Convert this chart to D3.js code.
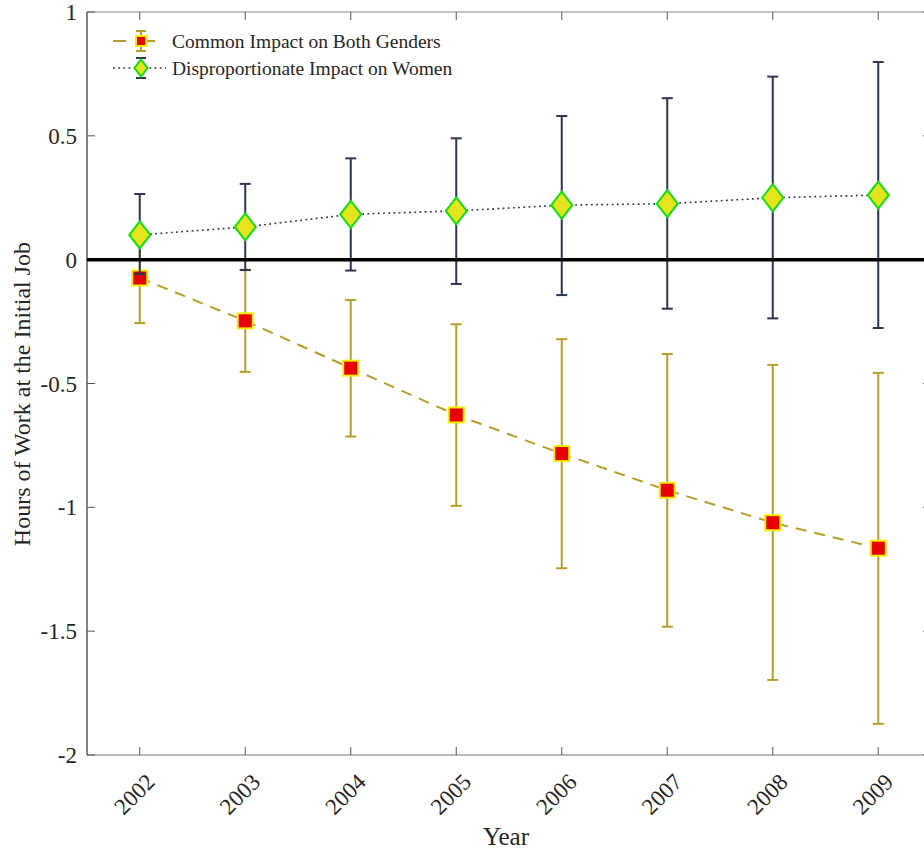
<!DOCTYPE html>
<html><head><meta charset="utf-8">
<script src="https://cdn.jsdelivr.net/npm/d3@7"></script>
<style>body{margin:0;background:#fff}svg{display:block}text{font-family:"Liberation Serif","DejaVu Serif",serif;fill:#262626}</style>
</head><body><svg id="c" width="924" height="850"></svg>
<script>
const years = [2002,2003,2004,2005,2006,2007,2008,2009];
const commonMean = [-0.074,-0.247,-0.438,-0.627,-0.783,-0.931,-1.062,-1.165];
const commonUpper = [0.108,-0.041,-0.163,-0.261,-0.321,-0.381,-0.425,-0.457];
const commonLower = [-0.256,-0.453,-0.714,-0.994,-1.246,-1.482,-1.697,-1.874];
const womenMean = [0.100,0.132,0.183,0.197,0.220,0.226,0.250,0.261];
const womenUpper = [0.265,0.306,0.409,0.490,0.580,0.652,0.739,0.798];
const womenLower = [-0.058,-0.042,-0.044,-0.098,-0.143,-0.198,-0.237,-0.276];
const yTicks = [1,0.5,0,-0.5,-1,-1.5,-2];
const yTickLabels = ["1","0.5","0","-0.5","-1","-1.5","-2"];
const seriesNames = ["Common Impact on Both Genders","Disproportionate Impact on Women"];
const xLabel = "Year", yLabel = "Hours of Work at the Initial Job";

const svg = d3.select("#c");
const L=87, R=931, T=12, B=755;
const x = d3.scaleLinear().domain([2001.5,2009.5]).range([L,R]);
const y = d3.scaleLinear().domain([-2,1]).range([B,T]);

const gold="#B89E28", navy="#2C3650";

const axc="#555";
svg.append("line").attr("x1",L).attr("x2",R).attr("y1",T).attr("y2",T).attr("stroke","#888").attr("stroke-width",1.2);
svg.append("line").attr("x1",L).attr("x2",R).attr("y1",B).attr("y2",B).attr("stroke","#777").attr("stroke-width",1.2);
svg.append("line").attr("x1",L).attr("x2",L).attr("y1",T).attr("y2",B).attr("stroke","#333").attr("stroke-width",1.2);
svg.append("line").attr("x1",R).attr("x2",R).attr("y1",T).attr("y2",B).attr("stroke","#777").attr("stroke-width",1.2);

years.forEach(v=>{
  svg.append("line").attr("x1",x(v)).attr("x2",x(v)).attr("y1",B).attr("y2",B-8).attr("stroke",axc);
  svg.append("line").attr("x1",x(v)).attr("x2",x(v)).attr("y1",T).attr("y2",T+8).attr("stroke",axc);
  svg.append("text").attr("transform",`translate(${x(v)+5},${B+17}) rotate(-45)`)
    .attr("text-anchor","end").attr("dy","0.7em").attr("font-size",23).text(v);
});
yTicks.forEach((v,i)=>{
  svg.append("line").attr("x1",L).attr("x2",L+8).attr("y1",y(v)).attr("y2",y(v)).attr("stroke",axc);
  svg.append("line").attr("x1",R).attr("x2",R-8).attr("y1",y(v)).attr("y2",y(v)).attr("stroke",axc);
  svg.append("text").attr("x",L-10).attr("y",y(v)).attr("dy","0.35em").attr("text-anchor","end")
    .attr("font-size",23).text(yTickLabels[i]);
});
svg.append("text").attr("x",506).attr("y",845).attr("text-anchor","middle").attr("font-size",25).text(xLabel);
svg.append("text").attr("transform","translate(30,394) rotate(-90)").attr("text-anchor","middle").attr("font-size",24).text(yLabel);

const line = d3.line().x(d=>x(d[0])).y(d=>y(d[1]));

function errbars(mean, up, lo, col){
  years.forEach((v,i)=>{
    svg.append("line").attr("x1",x(v)).attr("x2",x(v)).attr("y1",y(up[i])).attr("y2",y(lo[i])).attr("stroke",col).attr("stroke-width",2);
    [up[i],lo[i]].forEach(e=>svg.append("line").attr("x1",x(v)-5.5).attr("x2",x(v)+5.5).attr("y1",y(e)).attr("y2",y(e)).attr("stroke",col).attr("stroke-width",2));
  });
}
errbars(commonMean,commonUpper,commonLower,gold);
svg.append("path").attr("d",line(years.map((v,i)=>[v,commonMean[i]]))).attr("fill","none").attr("stroke",gold).attr("stroke-width",2).attr("stroke-dasharray","11,8");
years.forEach((v,i)=>svg.append("rect").attr("x",x(v)-7.5).attr("y",y(commonMean[i])-7.5).attr("width",15).attr("height",15).attr("fill","#E60000").attr("stroke","#F2EC00").attr("stroke-width",2));

errbars(womenMean,womenUpper,womenLower,navy);
svg.append("path").attr("d",line(years.map((v,i)=>[v,womenMean[i]]))).attr("fill","none").attr("stroke",navy).attr("stroke-width",1.6).attr("stroke-dasharray","1.8,3.4");
const dia=(cx,cy,w,h)=>`M${cx},${cy-h/2}L${cx+w/2},${cy}L${cx},${cy+h/2}L${cx-w/2},${cy}Z`;
years.forEach((v,i)=>svg.append("path").attr("d",dia(x(v),y(womenMean[i]),21,27)).attr("fill","#E6E41E").attr("stroke","#10E010").attr("stroke-width",2));

svg.append("line").attr("x1",L).attr("x2",R).attr("y1",y(0)).attr("y2",y(0)).attr("stroke","#000").attr("stroke-width",3.5);

const lx=113, lm=141, le=166;
let ly=41;
svg.append("line").attr("x1",lx).attr("x2",le).attr("y1",ly).attr("y2",ly).attr("stroke",gold).attr("stroke-width",2).attr("stroke-dasharray","13,16");
svg.append("line").attr("x1",lm).attr("x2",lm).attr("y1",ly-10).attr("y2",ly+10).attr("stroke",gold).attr("stroke-width",2);
[ly-10,ly+10].forEach(e=>svg.append("line").attr("x1",lm-5).attr("x2",lm+5).attr("y1",e).attr("y2",e).attr("stroke",gold).attr("stroke-width",2));
svg.append("rect").attr("x",lm-5).attr("y",ly-5).attr("width",10).attr("height",10).attr("fill","#E60000").attr("stroke","#F2EC00").attr("stroke-width",2);
svg.append("text").attr("x",172).attr("y",ly).attr("dy","0.35em").attr("font-size",19.5).text(seriesNames[0]);
ly=68;
svg.append("line").attr("x1",lx).attr("x2",le).attr("y1",ly).attr("y2",ly).attr("stroke",navy).attr("stroke-width",1.6).attr("stroke-dasharray","1.8,3.4");
svg.append("line").attr("x1",lm).attr("x2",lm).attr("y1",ly-10).attr("y2",ly+10).attr("stroke",navy).attr("stroke-width",2);
[ly-10,ly+10].forEach(e=>svg.append("line").attr("x1",lm-5).attr("x2",lm+5).attr("y1",e).attr("y2",e).attr("stroke",navy).attr("stroke-width",2));
svg.append("path").attr("d",dia(lm,ly,13,17)).attr("fill","#E6E41E").attr("stroke","#10E010").attr("stroke-width",2);
svg.append("text").attr("x",172).attr("y",ly).attr("dy","0.35em").attr("font-size",19.5).text(seriesNames[1]);
</script></body></html>
